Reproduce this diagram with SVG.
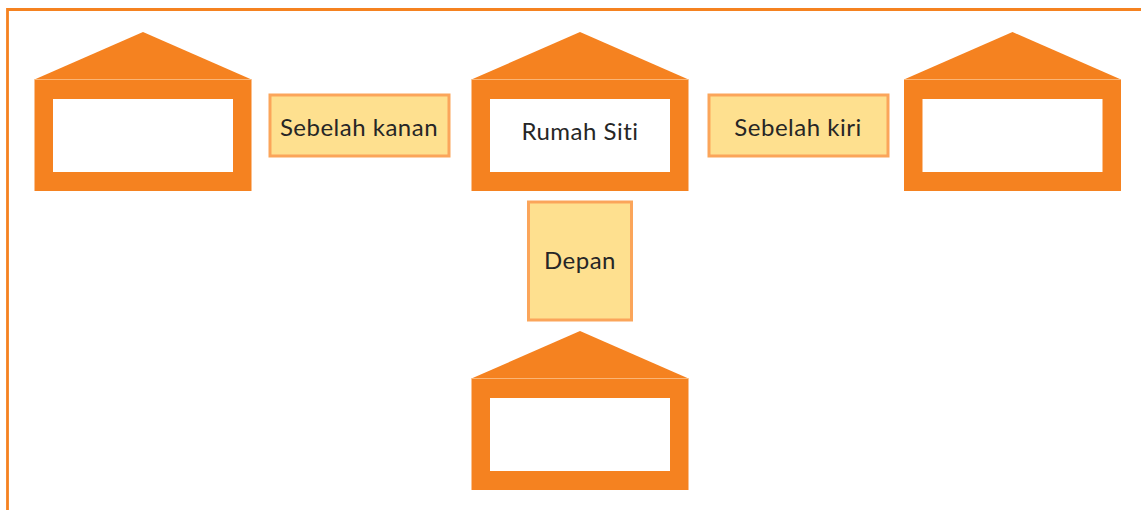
<svg xmlns="http://www.w3.org/2000/svg" width="1141" height="510" viewBox="0 0 1141 510">
<style>
.o{fill:#f58220}
.w{fill:#fff}
.sep{stroke:#fbb575;stroke-width:1}
.l{fill:#fee08f;stroke:#fba55a;stroke-width:3}
text{font-family:"Lato","Noto Sans",sans-serif;font-size:24px;fill:#262626;text-anchor:middle;letter-spacing:.5px}
</style>
<defs>
<g id="house">
<path class="o" d="M0 47.500L108.500 0L217 47.500V159H0Z"/>
<path class="sep" d="M0 47.500H217"/>
<rect class="w" x="18.500" y="67" width="180" height="73"/>
</g>
</defs>
<rect width="1141" height="510" fill="#fff"/>
<path d="M1141 9.500H7.500V510" fill="none" stroke="#f58220" stroke-width="2.800"/>
<g id="connectors"/>
<g id="house-left"><use href="#house" x="34.500" y="32"/></g>
<g id="house-center"><use href="#house" x="471.500" y="32"/><text x="580" y="140">Rumah Siti</text></g>
<g id="house-right"><use href="#house" x="904" y="32"/></g>
<g id="house-bottom"><use href="#house" x="471.500" y="331"/></g>
<g id="label-kanan"><rect class="l" x="270" y="95" width="179" height="61"/><text x="359" y="135.500">Sebelah kanan</text></g>
<g id="label-kiri"><rect class="l" x="709" y="95" width="179" height="61"/><text x="798" y="135.500">Sebelah kiri</text></g>
<g id="label-depan"><rect class="l" x="528.500" y="202" width="103" height="118"/><text x="580" y="268.500">Depan</text></g>
</svg>
